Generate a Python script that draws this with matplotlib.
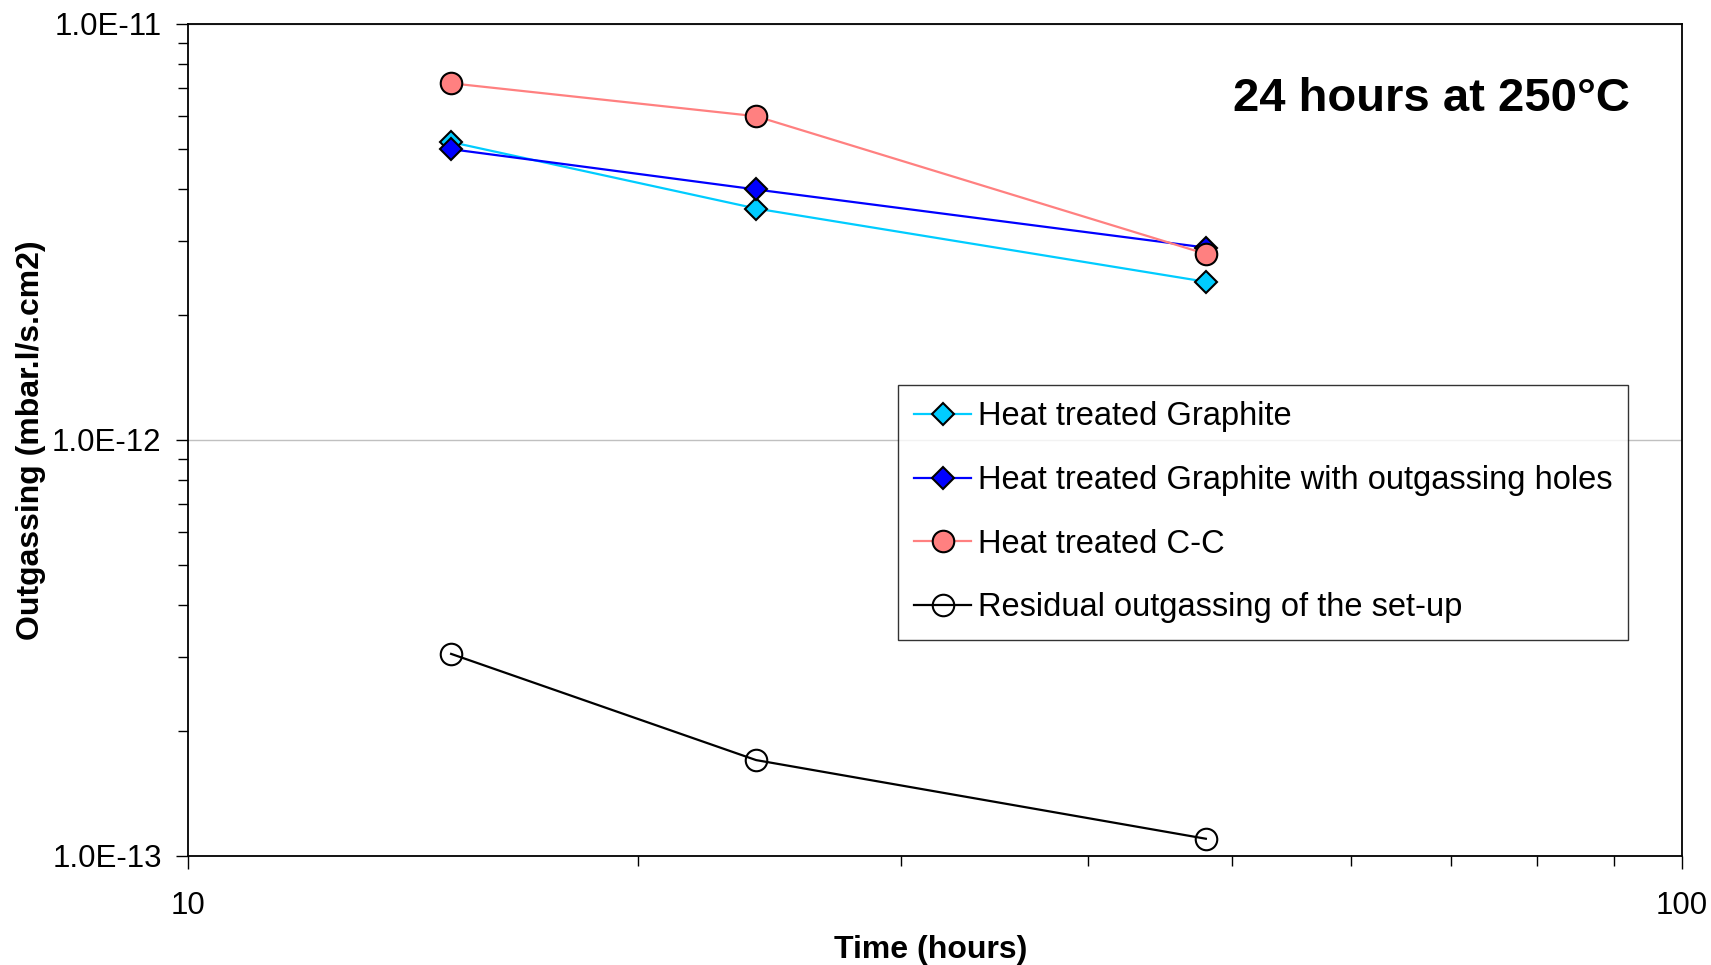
import numpy as np
import matplotlib
matplotlib.use("Agg")
import matplotlib.pyplot as plt
from matplotlib.ticker import FuncFormatter, LogLocator, NullFormatter, FixedLocator

plt.rcParams['font.family'] = ['Liberation Sans', 'DejaVu Sans']

# data
hours = [15, 24, 48]
graphite = [5.2e-12, 3.6e-12, 2.4e-12]
graphite_holes = [5.0e-12, 4.0e-12, 2.9e-12]
cc = [7.2e-12, 6.0e-12, 2.8e-12]
residual = [3.06e-13, 1.7e-13, 1.1e-13]

labels = ['Heat treated Graphite',
          'Heat treated Graphite with outgassing holes',
          'Heat treated C-C',
          'Residual outgassing of the set-up']
y_ticks = [1e-13, 1e-12, 1e-11]
x_ticks = [10, 100]

fig = plt.figure(figsize=(17.11, 9.65), dpi=100)
ax = fig.add_axes([0.1099, 0.1130, 0.8732, 0.8622])

ax.plot(hours, graphite, color='#00CCFF', lw=1.6, marker='D', ms=11.5,
        mfc='#00CCFF', mec='black', mew=1.5, label=labels[0])
ax.plot(hours, graphite_holes, color='#0000FF', lw=1.6, marker='D', ms=11.5,
        mfc='#0000FF', mec='black', mew=1.5, label=labels[1])
ax.plot(hours, cc, color='#FF8080', lw=1.6, marker='o', ms=15.5,
        mfc='#FF8080', mec='black', mew=1.5, label=labels[2])
ax.plot(hours, residual, color='black', lw=1.6, marker='o', ms=15.5,
        mfc='none', mec='black', mew=1.5, label=labels[3])

ax.set_xscale('log')
ax.set_yscale('log')
ax.set_xlim(10, 100)
ax.set_ylim(1e-13, 1e-11)

ax.yaxis.set_major_locator(FixedLocator(y_ticks))
ax.yaxis.set_minor_locator(LogLocator(base=10, subs=np.arange(2, 10)))
ax.yaxis.set_major_formatter(FuncFormatter(lambda v, p: f"{v:.1E}"))
ax.yaxis.set_minor_formatter(NullFormatter())
ax.xaxis.set_major_locator(FixedLocator(x_ticks))
ax.xaxis.set_major_formatter(FuncFormatter(lambda v, p: f"{v:g}"))
ax.xaxis.set_minor_formatter(NullFormatter())

ax.tick_params(which='both', direction='out', width=1, labelsize=22.5)
ax.tick_params(which='major', length=9)
ax.tick_params(which='minor', length=7)
ax.tick_params(axis='x', pad=16)
ax.tick_params(axis='y', pad=10)
for s in ax.spines.values():
    s.set_linewidth(1.3)

ax.yaxis.grid(True, which='major', color='#c0c0c0', lw=1)
ax.set_axisbelow(True)

ax.set_xlabel('Time (hours)', fontsize=23, fontweight='bold', va='center')
ax.xaxis.set_label_coords(0.497, -0.113)
ax.set_ylabel('Outgassing (mbar.l/s.cm2)', fontsize=23, fontweight='bold', va='center')
ax.yaxis.set_label_coords(-0.105, 0.5)

ax.text(0.965, 0.9095, '24 hours at 250°C', transform=ax.transAxes,
        ha='right', va='center', fontsize=34, fontweight='bold')

leg = ax.legend(loc='upper left', bbox_to_anchor=(0.475, 0.566), fontsize=23.5,
                frameon=True, fancybox=False, edgecolor='black', borderpad=0.5,
                labelspacing=1.0, handlelength=1.75, handletextpad=0.2,
                borderaxespad=0)
leg.get_frame().set_linewidth(1)

fig.savefig('out.png', dpi=100)
